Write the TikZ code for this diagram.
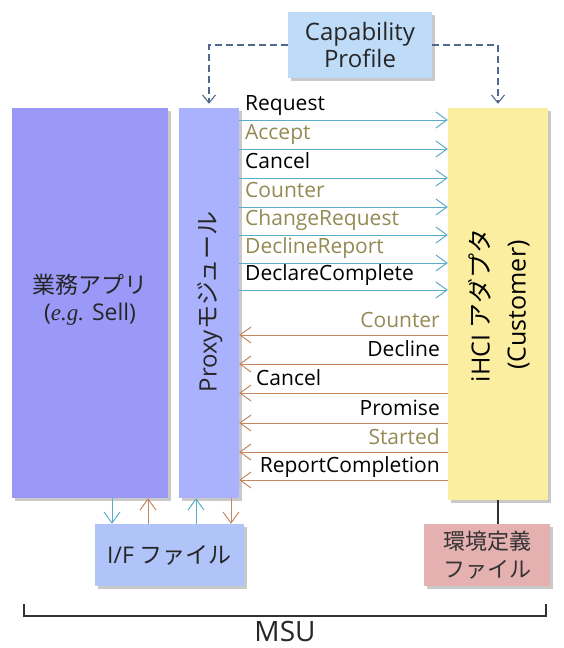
\documentclass[tikz,border=0pt]{standalone}
\usepackage{fontspec}
\setmainfont{Open Sans}
\newfontfamily\jp{Noto Sans CJK JP}
\newfontfamily\serifit{Liberation Serif}
\usetikzlibrary{arrows.meta,shadows}
\definecolor{appc}{RGB}{155,153,248}
\definecolor{proxc}{RGB}{170,178,254}
\definecolor{ihcic}{RGB}{252,238,160}
\definecolor{capc}{RGB}{190,220,248}
\definecolor{iffc}{RGB}{176,196,250}
\definecolor{envc}{RGB}{228,176,176}
\definecolor{tealc}{RGB}{90,172,200}
\definecolor{orc}{RGB}{196,136,96}
\definecolor{olivec}{RGB}{148,138,84}
\definecolor{dashc}{RGB}{80,104,140}
\definecolor{darkc}{RGB}{50,50,50}
\begin{document}
\begin{tikzpicture}[x=1pt,y=-1pt,
  box/.style={draw=none,inner sep=0pt,drop shadow={shadow xshift=3pt,shadow yshift=-3pt,opacity=0.35,fill=black!60}},
  lbl/.style={inner sep=0pt,font=\fontsize{21}{24}\selectfont},
  rarr/.style={draw=tealc,line width=1pt,-{Straight Barb[length=11pt,width=16pt,line width=1pt]}},
  larr/.style={draw=orc,line width=1pt,-{Straight Barb[length=11pt,width=16pt,line width=1pt]}},
  darr/.style={draw=dashc,line width=1.1pt,dash pattern=on 7pt off 4pt,-{Straight Barb[length=8pt,width=13pt,line width=1.1pt]}}]
\useasboundingbox (0,0) rectangle (564,648);
\fill[white] (0,0) rectangle (564,648);

% boxes
\node[box,fill=appc,minimum width=156pt,minimum height=390pt] (app) at (90,303) {};
\node[box,fill=proxc,minimum width=60pt,minimum height=390pt] (proxy) at (209,303) {};
\node[box,fill=ihcic,minimum width=100pt,minimum height=392pt] (ihci) at (498,304) {};
\node[box,fill=capc,minimum width=144pt,minimum height=66pt,align=center,
      font=\fontsize{24}{27}\selectfont,text=black!85] (cap) at (360,45) {Capability\\Profile};
\node[box,fill=iffc,minimum width=149pt,minimum height=62pt,
      font=\fontsize{23}{26}\selectfont,text=black!85] (iff) at (169.5,555) {I/F {\jp ファイル}};
\node[box,fill=envc,minimum width=126pt,minimum height=62pt,align=center,
      font=\fontsize{22}{28}\selectfont\jp,text=black!80] (env) at (487,555) {環境定義\\ファイル};

% box texts
\node[align=center,font=\fontsize{23}{27}\selectfont,text=black!85] (apptext) at (90,300)
  {{\jp 業務アプリ}\\({\serifit\itshape e.g.} Sell)};
\node[rotate=90,font=\fontsize{24}{27}\selectfont,text=black!85] (proxytext) at (210,302)
  {Proxy{\jp モジュール}};
\node[rotate=90,align=center,font=\fontsize{25}{36}\selectfont,text=black] (ihcitext) at (499,305)
  {iHCI {\jp アダプタ}\\(Customer)};

% dashed links from capability profile
\draw[darr] (cap.west) -| ([yshift=4pt]proxy.north);
\draw[darr] (cap.east) -| ([yshift=4pt]ihci.north);

% messages proxy -> ihci
\foreach \y/\t/\c [count=\i] in {120/Request/black,149/Accept/olivec,178/Cancel/black,
  207/Counter/olivec,235/ChangeRequest/olivec,263/DeclineReport/olivec,290/DeclareComplete/black}{
  \coordinate (rs\i) at (0,\y);
  \draw[rarr] (proxy.east |- rs\i) -- (ihci.west |- rs\i);
  \node[lbl,anchor=base west,text=\c] (rl\i) at (245,\y-10) {\t};
}
% messages ihci -> proxy
\foreach \y/\t/\c/\a/\x [count=\i] in {335/Counter/olivec/base east/440,364/Decline/black/base east/440,
  393/Cancel/black/base west/256,423/Promise/black/base east/440,452/Started/olivec/base east/440,
  480/ReportCompletion/black/base east/440}{
  \coordinate (ls\i) at (0,\y);
  \draw[larr] (ihci.west |- ls\i) -- (proxy.east |- ls\i);
  \node[lbl,anchor=\a,text=\c] (ll\i) at (\x,\y-8) {\t};
}

% I/F file arrows
\coordinate (f1) at (112,0);
\coordinate (f2) at (148,0);
\coordinate (f3) at (196,0);
\coordinate (f4) at (231,0);
\draw[rarr] (app.south -| f1) -- (iff.north -| f1);
\draw[larr] (iff.north -| f2) -- (app.south -| f2);
\draw[rarr] (iff.north -| f3) -- (proxy.south -| f3);
\draw[larr] (proxy.south -| f4) -- (iff.north -| f4);

% env link
\draw[darkc,line width=1.5pt] (ihci.south) -- (env.north -| ihci.south);

% MSU bracket
\coordinate (bl) at (24,604);
\coordinate (br) at (546,604);
\draw[darkc,line width=1.4pt] (bl) -- ++(0,12) -| (br);
\node[inner sep=0pt,anchor=base,text depth=0pt,font=\fontsize{28}{32}\selectfont,text=black!85] (msu) at (285,641) {MSU};
\end{tikzpicture}
\end{document}
